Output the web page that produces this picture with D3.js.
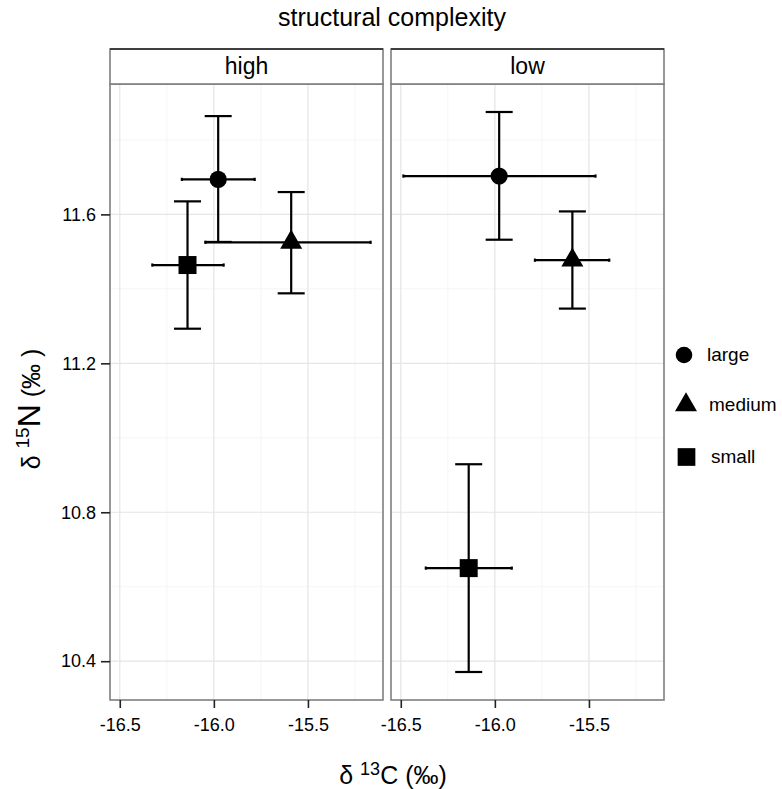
<!DOCTYPE html>
<html><head><meta charset="utf-8">
<script src="https://cdn.jsdelivr.net/npm/d3@7"></script>
<style>body{margin:0;background:#fff} text{font-family:"Liberation Sans",Arial,Helvetica,sans-serif;fill:#000}</style>
</head><body><svg id="c" width="782" height="789"></svg>
<script>
// ---- data ----
const facets = ["high", "low"];
const sizes = ["large", "medium", "small"];
const facetOf = ["high", "high", "high", "low", "low", "low"];
const sizeOf = ["large", "medium", "small", "large", "medium", "small"];
const d13C   = [-15.977, -15.589, -16.140, -15.977, -15.588, -16.139];
const d13Clo = [-16.170, -16.045, -16.327, -16.486, -15.787, -16.367];
const d13Chi = [-15.783, -15.167, -15.948, -15.465, -15.392, -15.910];
const d15N   = [11.694, 11.525, 11.464, 11.703, 11.477, 10.650];
const d15Nlo = [11.526, 11.388, 11.293, 11.532, 11.347, 10.371];
const d15Nhi = [11.864, 11.660, 11.635, 11.875, 11.608, 10.929];
const xTicks = [-16.5, -16.0, -15.5];
const yTicks = [10.4, 10.8, 11.2, 11.6];
const xTickLabels = ["-16.5", "-16.0", "-15.5"];
const yTickLabels = ["10.4", "10.8", "11.2", "11.6"];

const rows = d13C.map((v, i) => ({facet: facetOf[i], size: sizeOf[i], x: v, xlo: d13Clo[i], xhi: d13Chi[i], y: d15N[i], ylo: d15Nlo[i], yhi: d15Nhi[i]}));

// ---- layout ----
const svg = d3.select("#c");
const panelLeft = [110, 391], panelW = 273, pTop = 84, pBottom = 700, stripTop = 49;

function expand(lo, hi) { const r = hi - lo; return [lo - 0.05 * r, hi + 0.05 * r]; }
const xDom = expand(d3.min(d13Clo), d3.max(d13Chi));
const yDom = expand(d3.min(d15Nlo), d3.max(d15Nhi));
const y = d3.scaleLinear().domain(yDom).range([pBottom, pTop]);

const shapeType = {large: d3.symbolCircle, medium: d3.symbolTriangle, small: d3.symbolSquare};
const shapeSize = {large: Math.PI * 8.6 * 8.6, medium: 0.433 * 22 * 22, small: 18 * 18};

function minors(ticks, dom) {
  const step = ticks[1] - ticks[0];
  const out = [];
  for (let v = ticks[0] - step / 2; v <= dom[1]; v += step) if (v >= dom[0]) out.push(v);
  return out;
}
const xMinor = minors(xTicks, xDom), yMinor = minors(yTicks, yDom);

facets.forEach((f, fi) => {
  const x0 = panelLeft[fi];
  const x = d3.scaleLinear().domain(xDom).range([x0, x0 + panelW]);
  const g = svg.append("g");
  // grid
  g.selectAll(".ym").data(yMinor).enter().append("line")
    .attr("x1", x0).attr("x2", x0 + panelW).attr("y1", d => y(d)).attr("y2", d => y(d))
    .attr("stroke", "#f5f5f5").attr("stroke-width", 1);
  g.selectAll(".xm").data(xMinor).enter().append("line")
    .attr("y1", pTop).attr("y2", pBottom).attr("x1", d => x(d)).attr("x2", d => x(d))
    .attr("stroke", "#f5f5f5").attr("stroke-width", 1);
  g.selectAll(".yM").data(yTicks).enter().append("line")
    .attr("x1", x0).attr("x2", x0 + panelW).attr("y1", d => y(d)).attr("y2", d => y(d))
    .attr("stroke", "#e5e5e5").attr("stroke-width", 1.2);
  g.selectAll(".xM").data(xTicks).enter().append("line")
    .attr("y1", pTop).attr("y2", pBottom).attr("x1", d => x(d)).attr("x2", d => x(d))
    .attr("stroke", "#e5e5e5").attr("stroke-width", 1.2);

  const data = rows.filter(r => r.facet === f);
  const lw = 2.2;
  data.forEach(r => {
    g.append("line").attr("x1", x(r.x)).attr("x2", x(r.x)).attr("y1", y(r.ylo)).attr("y2", y(r.yhi)).attr("stroke", "#000").attr("stroke-width", lw);
    [r.ylo, r.yhi].forEach(v => g.append("line").attr("x1", x(r.x) - 13.5).attr("x2", x(r.x) + 13.5).attr("y1", y(v)).attr("y2", y(v)).attr("stroke", "#000").attr("stroke-width", lw));
    g.append("line").attr("x1", x(r.xlo)).attr("x2", x(r.xhi)).attr("y1", y(r.y)).attr("y2", y(r.y)).attr("stroke", "#000").attr("stroke-width", lw);
    [r.xlo, r.xhi].forEach(v => g.append("line").attr("x1", x(v)).attr("x2", x(v)).attr("y1", y(r.y) - 1.6).attr("y2", y(r.y) + 1.6).attr("stroke", "#000").attr("stroke-width", lw));
  });
  g.selectAll(".pt").data(data).enter().append("path")
    .attr("d", r => d3.symbol().type(shapeType[r.size]).size(shapeSize[r.size])())
    .attr("transform", r => `translate(${x(r.x)},${y(r.y)})`)
    .attr("fill", "#000");

  g.append("rect").attr("x", x0).attr("y", pTop).attr("width", panelW).attr("height", pBottom - pTop)
    .attr("fill", "none").attr("stroke", "#7f7f7f").attr("stroke-width", 1.6);
  g.append("rect").attr("x", x0).attr("y", stripTop).attr("width", panelW).attr("height", pTop - stripTop)
    .attr("fill", "#fff").attr("stroke", "#7f7f7f").attr("stroke-width", 1.6);
  g.append("line").attr("x1", x0).attr("x2", x0 + panelW).attr("y1", stripTop).attr("y2", stripTop).attr("stroke", "#222").attr("stroke-width", 1.4);
  g.append("text").attr("x", x0 + panelW / 2).attr("y", 74).attr("text-anchor", "middle")
    .style("font-size", "23px").text(f);

  const ax = g.append("g").attr("transform", `translate(0,${pBottom})`)
    .call(d3.axisBottom(x).tickValues(xTicks).tickSize(8).tickPadding(10).tickFormat((d, i) => xTickLabels[i]));
  ax.select(".domain").remove();
  ax.selectAll("line").attr("stroke", "#222").attr("stroke-width", 1.6);
  ax.selectAll("text").style("font-size", "18px").attr("fill", "#000").style("font-family", '"Liberation Sans",Arial,sans-serif');
});

const ay = svg.append("g").attr("transform", `translate(${panelLeft[0]},0)`)
  .call(d3.axisLeft(y).tickValues(yTicks).tickSize(9).tickPadding(5).tickFormat((d, i) => yTickLabels[i]));
ay.select(".domain").remove();
ay.selectAll("line").attr("stroke", "#222").attr("stroke-width", 1.6);
ay.selectAll("text").style("font-size", "18px").attr("fill", "#000").style("font-family", '"Liberation Sans",Arial,sans-serif');

svg.append("text").attr("x", 392).attr("y", 26).attr("text-anchor", "middle").style("font-size", "25px").text("structural complexity");

const xt = svg.append("text").attr("x", 393).attr("y", 784).attr("text-anchor", "middle").style("font-size", "25px");
xt.append("tspan").text("δ ");
xt.append("tspan").attr("dy", -9).style("font-size", "18px").text("13");
xt.append("tspan").attr("dy", 9).text("C (‰)");

const yt = svg.append("text").attr("transform", "translate(40,409) rotate(-90)").attr("text-anchor", "middle").style("font-size", "25px");
yt.append("tspan").text("δ ");
yt.append("tspan").attr("dy", -11).style("font-size", "19px").text("15");
yt.append("tspan").attr("dy", 11).style("font-size", "32px").text("N");
yt.append("tspan").text(" (‰ )");

const legY = [355, 405, 457];
const legTextX = [707, 709, 711];
const legSymX = [684, 686, 686.5];
const legSize = {large: Math.PI * 8.3 * 8.3, medium: 0.433 * 22 * 22, small: 17.7 * 17.7};
sizes.forEach((s, i) => {
  svg.append("path").attr("d", d3.symbol().type(shapeType[s]).size(legSize[s])())
    .attr("transform", `translate(${legSymX[i]},${legY[i]})`).attr("fill", "#000");
  svg.append("text").attr("x", legTextX[i]).attr("y", legY[i] + 6).style("font-size", "19px").text(s);
});
</script></body></html>
